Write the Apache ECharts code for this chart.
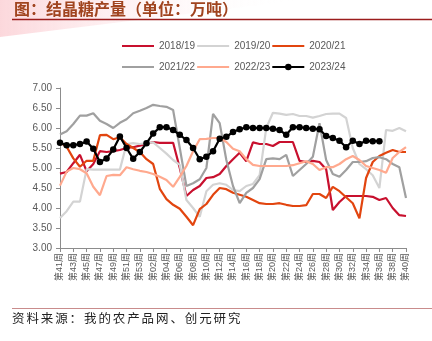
<!DOCTYPE html>
<html>
<head>
<meta charset="utf-8">
<script src="https://cdn.jsdelivr.net/npm/echarts@6/dist/echarts.min.js"></script>
<style>
html,body{margin:0;padding:0;background:#fff;}
#chart{width:432px;height:341px;}
</style>
</head>
<body>
<div id="chart"></div>
<script>
// Week categories (41..53 then 01..40)
const weeks = ['41','42','43','44','45','46','47','48','49','50','51','52','53',
  '01','02','03','04','05','06','07','08','09','10','11','12','13','14','15','16','17','18','19','20',
  '21','22','23','24','25','26','27','28','29','30','31','32','33','34','35','36','37','38','39','40'];
const categories = weeks.map(w => '第' + w + '周');

const seriesNames = ['2018/19','2019/20','2020/21','2021/22','2022/23','2023/24'];

const s1819 = [4.86,4.90,5.12,5.33,4.92,5.10,5.42,5.40,5.42,5.45,5.50,5.52,5.56,5.60,5.65,5.63,5.63,5.63,5.00,4.30,
  4.45,4.55,4.75,4.77,4.85,5.05,5.22,5.38,5.17,5.64,5.60,5.60,5.55,5.65,5.65,5.65,5.18,5.15,5.18,5.15,
  4.97,3.95,4.15,4.30,4.30,4.30,4.30,4.28,4.20,4.25,4.00,3.82,3.80];
const s1920 = [3.75,3.92,4.16,4.16,4.97,4.96,4.96,4.96,4.96,4.96,5.60,5.62,5.60,5.62,5.64,5.50,5.36,5.20,5.08,4.20,
  4.00,3.78,4.42,4.58,4.62,4.58,4.45,4.42,4.55,4.60,4.82,6.00,6.38,6.36,6.33,6.35,6.30,6.30,6.26,6.30,
  6.35,6.36,6.36,6.25,5.50,5.10,4.97,4.82,4.50,5.95,5.93,6.00,5.92];
const s2021 = [5.65,5.53,5.24,5.03,5.18,5.18,5.82,5.83,5.72,5.77,5.60,5.50,5.40,5.22,5.10,4.48,4.22,4.08,3.98,3.78,
  3.57,3.97,4.10,4.33,4.50,4.47,4.38,4.33,4.28,4.20,4.12,4.10,4.10,4.12,4.08,4.05,4.05,4.07,4.35,4.35,
  4.25,4.53,4.42,4.27,4.12,3.74,4.75,5.15,5.30,5.38,5.45,5.40,5.40];
const s2122 = [5.84,5.92,6.10,6.31,6.31,6.37,6.18,6.10,6.00,6.13,6.22,6.37,6.43,6.50,6.58,6.55,6.53,6.45,5.50,4.55,
  4.62,4.72,5.00,6.35,6.12,5.20,4.55,4.12,4.38,4.50,4.72,5.22,5.24,5.22,5.33,4.80,4.95,5.10,5.28,6.12,
  5.20,4.85,4.78,4.95,5.15,5.15,5.17,5.25,5.27,5.22,5.10,5.02,4.25];
const s2223 = [4.56,4.91,5.00,4.97,4.87,4.53,4.32,4.80,4.83,4.82,5.02,4.97,4.93,4.90,4.85,4.78,4.70,4.53,4.78,5.05,
  5.42,5.72,5.73,5.75,5.75,5.65,5.48,5.42,5.22,5.08,5.05,5.05,5.05,5.05,5.05,5.07,5.12,5.17,5.10,4.95,
  5.02,5.02,5.10,5.22,5.30,5.20,5.05,5.00,4.95,4.88,5.25,5.40,5.52];
const s2324 = [5.63,5.57,5.57,5.60,5.66,5.48,5.15,5.24,5.46,5.79,5.50,5.23,5.40,5.62,5.86,6.02,6.02,5.95,5.83,5.70,
  5.50,5.22,5.28,5.42,5.73,5.78,5.90,5.97,6.02,6.00,6.00,6.00,5.98,5.95,5.83,6.02,6.02,6.00,5.98,5.97,
  5.80,5.75,5.68,5.52,5.68,5.60,5.68,5.67,5.67];

const yTicks = {min: 3, max: 7, step: 0.5};

const colors = ['#c8102e','#d3d3d3','#e2450f','#a0a0a0','#ffa98e','#000000'];
const dataList = [s1819, s1920, s2021, s2122, s2223, s2324];

const chart = echarts.init(document.getElementById('chart'), null, {renderer:'canvas'});

const footerText = '资料来源：我的农产品网、创元研究';
const footerChars = footerText.split('').map((ch, k) => ({
  type: 'text', left: 12 + 14.4 * k, top: 312,
  style: {text: ch, fill: '#222', font: '12.5px "Noto Sans CJK SC"'}
}));

const series = dataList.map((d, k) => {
  const isBlack = k === 5;
  return {
    name: seriesNames[k], type: 'line', data: d,
    symbol: isBlack ? 'circle' : 'none', symbolSize: 6.5, showSymbol: isBlack, showAllSymbol: true,
    lineStyle: {width: 2.2, color: colors[k]},
    itemStyle: {color: colors[k]},
    z: 2 + k, animation: false
  };
});

const legendText = {fontSize: 10, color: '#595959', fontFamily: '"Liberation Sans", Arial, sans-serif'};
const hiddenDot = {color: 'rgba(0,0,0,0)', borderWidth: 0, opacity: 0};
const legendData = seriesNames.map((n, k) => k === 5 ? {name: n} : {name: n, itemStyle: hiddenDot});

chart.setOption({
  animation: false,
  color: colors,
  graphic: [
    {type: 'polygon', shape: {points: [[0,0],[300,0],[0,37]]},
     style: {fill: new echarts.graphic.LinearGradient(0,0,1,0,[{offset:0,color:'#fcd8dc'},{offset:1,color:'rgba(255,255,255,0)'}])}, z: -10},
    {type: 'text', left: 14, top: 1,
     style: {text: '图：结晶糖产量（单位：万吨）', fill: '#a0441f', font: 'bold 16px "Noto Sans CJK SC"'}},
    {type: 'line', shape: {x1: 12, y1: 19.5, x2: 432, y2: 19.5}, style: {stroke: '#9b1c1c', lineWidth: 1.5}},
    {type: 'line', shape: {x1: 12, y1: 308.5, x2: 432, y2: 308.5}, style: {stroke: '#c98c8c', lineWidth: 1}},
    ...footerChars
  ],
  legend: [
    {data: legendData.slice(0,3), left: 116, top: 36, itemWidth: 32, itemHeight: 8, itemGap: 1, textStyle: legendText},
    {data: legendData.slice(3,6), left: 116, top: 57, itemWidth: 32, itemHeight: 8, itemGap: 1, textStyle: legendText}
  ],
  grid: {left: 60, right: 26, top: 88, bottom: 93, containLabel: false},
  xAxis: {
    type: 'category', data: categories, boundaryGap: false,
    axisLine: {lineStyle: {color: '#8c8c8c', width: 1}},
    axisTick: {show: true, interval: 1, length: 4, lineStyle: {color: '#8c8c8c'}},
    axisLabel: {interval: 1, rotate: 90, fontSize: 9, color: '#595959', margin: 5,
      fontFamily: '"Liberation Sans", "Noto Sans CJK SC", sans-serif'},
    splitLine: {show: false}
  },
  yAxis: {
    type: 'value', min: yTicks.min, max: yTicks.max, interval: yTicks.step,
    axisLine: {show: true, lineStyle: {color: '#8c8c8c', width: 1}},
    axisTick: {show: true, length: 4, lineStyle: {color: '#8c8c8c'}},
    axisLabel: {formatter: v => v.toFixed(2), fontSize: 10, color: '#595959', margin: 8,
      fontFamily: '"Liberation Sans", Arial, sans-serif'},
    splitLine: {show: false}
  },
  series: series
});
</script>
</body>
</html>
